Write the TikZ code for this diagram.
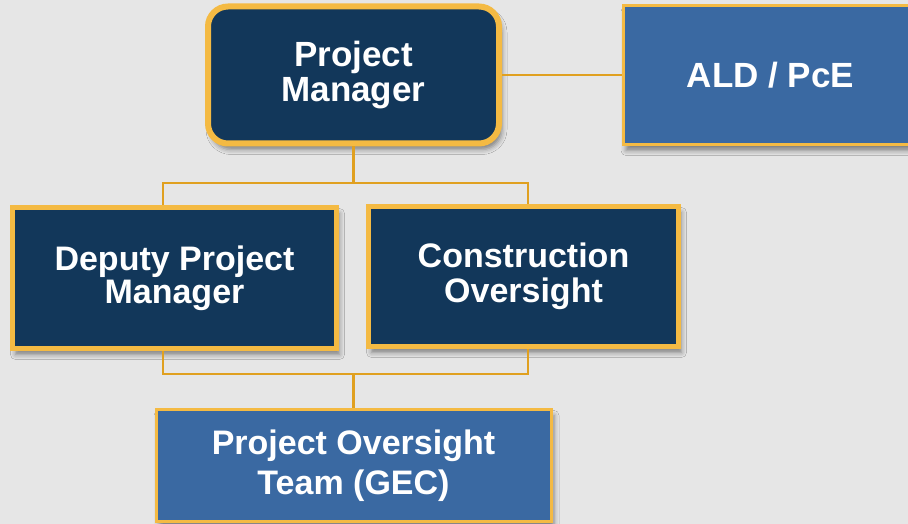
\documentclass[tikz,border=0pt]{standalone}
\usepackage{fontspec}
\setmainfont{Liberation Sans}
\usetikzlibrary{positioning,shadows.blur}
\definecolor{pagegrey}{HTML}{E6E6E6}
\definecolor{navybox}{HTML}{12375A}
\definecolor{bluebox}{HTML}{3A69A2}
\definecolor{goldedge}{HTML}{F4BA43}
\definecolor{goldline}{HTML}{E0A020}
\tikzset{
	orgbox/.style={draw=goldedge, text=white, align=center, inner sep=0pt,
		font=\bfseries\fontsize{34}{35}\selectfont,
		blur shadow={shadow xshift=3pt, shadow yshift=-6pt, shadow opacity=45, shadow blur radius=5pt}},
	navy/.style={orgbox, fill=navybox, line width=5pt},
	pale/.style={orgbox, fill=bluebox, line width=3pt},
	link/.style={draw=goldline, line width=2.2pt}
}

\begin{document}
\begin{tikzpicture}[x=1pt, y=1pt]

	\fill[pagegrey] (0,0) rectangle (908,524);
	\useasboundingbox (0,0) rectangle (908,524);
	\clip (0,0) rectangle (908,524);

	\node[navy, rounded corners=20pt, line width=6pt, font=\bfseries\fontsize{35}{35}\selectfont, minimum width=291pt, minimum height=137pt] (pm) at (353.5,449) {Project\\Manager};
	\node[pale, font=\bfseries\fontsize{35}{35}\selectfont, minimum width=295pt, minimum height=139pt] (ald) at (770.5,449) {ALD / PcE};

	\node[navy, font=\bfseries\fontsize{34}{33}\selectfont, minimum width=324pt, minimum height=141pt] (dpm) at (174.5,246) {Deputy Project\\Manager};
	\node[navy, minimum width=310pt, minimum height=140pt] (co) at (523.5,247.5) {Construction\\Oversight};

	\node[pale, font=\bfseries\fontsize{34}{40}\selectfont, minimum width=395pt, minimum height=112pt] (pot) at (353.5,58.5) {Project Oversight\\Team (GEC)};

	% joints of the tree
	\coordinate (jtop) at (353.5,341);
	\coordinate (jbot) at (353.5,150);

	\draw[link] (pm.east) -- (ald.west);
	\draw[link] (pm.south) -- (jtop);
	\draw[link] (jtop) -| ([xshift=-11.5pt]dpm.north);
	\draw[link] (jtop) -| ([xshift=4.5pt]co.north);
	\draw[link] ([xshift=-11.5pt]dpm.south) |- (jbot);
	\draw[link] ([xshift=4.5pt]co.south) |- (jbot);
	\draw[link] (jbot) -- (pot.north);

\end{tikzpicture}
\end{document}
